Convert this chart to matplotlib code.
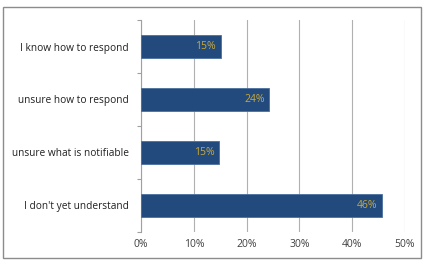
import matplotlib
matplotlib.use("Agg")
import matplotlib.pyplot as plt
from matplotlib.patches import Rectangle

categories = ["I know how to respond", "unsure how to respond", "unsure what is notifiable", "I don't yet understand"]
values = [15.1, 24.3, 14.8, 45.6]
labels = ["15%", "24%", "15%", "46%"]
xticks = [0, 10, 20, 30, 40, 50]
xticklabels = ["0%", "10%", "20%", "30%", "40%", "50%"]

plt.rcParams['font.family'] = ['Open Sans', 'DejaVu Sans']

fig = plt.figure(figsize=(4.25, 2.62), dpi=100)
fig.patches.append(Rectangle((3/425, 4/262), 418/425, 251/262, transform=fig.transFigure,
                             fill=False, edgecolor='#8c8c8c', linewidth=1.0))
ax = fig.add_axes([141/425, 1 - 232/262, 264/425, 212/262])

ypos = list(range(len(categories)))
ax.barh(ypos, values, height=0.42, color='#234a7c', edgecolor='#4a6fa0', linewidth=0.6, zorder=3)
for y, v, lab in zip(ypos, values, labels):
    ax.text(v - 0.9, y, lab, ha='right', va='center', color='#c9a93a', fontsize=7.5, zorder=4)

ax.set_xlim(0, 50)
ax.set_ylim(3.5, -0.5)
ax.set_xticks(xticks)
ax.set_xticklabels(xticklabels, fontsize=7.5, color='#404040')
ax.set_yticks(ypos)
ax.set_yticklabels(categories, fontsize=7.3, color='#202020')
ax.tick_params(axis='y', length=0, pad=9)
ax.tick_params(axis='x', length=0, pad=5)
ax.set_yticks([-0.5, 0.5, 1.5, 2.5, 3.5], minor=True)
ax.tick_params(axis='y', which='minor', length=3, color='#a0a0a0', width=0.8)
ax.xaxis.grid(True, color='#b0b0b0', linewidth=0.8, zorder=0)
for s in ['top', 'right', 'bottom']:
    ax.spines[s].set_visible(False)
ax.spines['left'].set_color('#a0a0a0')
ax.spines['left'].set_linewidth(0.8)

fig.savefig("out.png", dpi=100)
